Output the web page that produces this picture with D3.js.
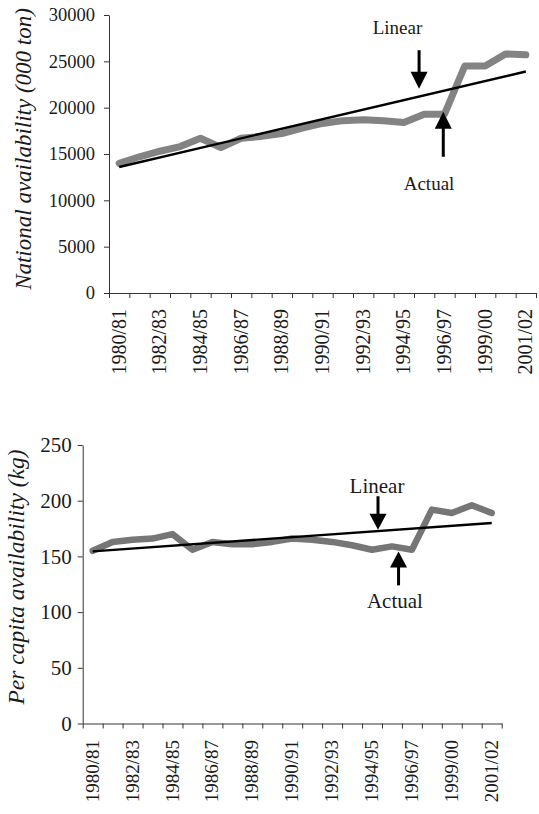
<!DOCTYPE html>
<html><head><meta charset="utf-8">
<script src="https://cdn.jsdelivr.net/npm/d3@7"></script>
<style>
html,body{margin:0;padding:0;background:#fff;}
svg{display:block;}
</style></head><body>
<svg id="chart" width="539" height="814"></svg>
<script>
// ---------- data ----------
const categories = ["1980/81","1981/82","1982/83","1983/84","1984/85","1985/86","1986/87",
  "1987/88","1988/89","1989/90","1990/91","1991/92","1992/93","1993/94","1994/95","1995/96",
  "1996/97","1997/98","1999/00","2000/01","2001/02"];
const xTickLabels = ["1980/81","1982/83","1984/85","1986/87","1988/89","1990/91",
  "1992/93","1994/95","1996/97","1999/00","2001/02"];

const nationalActual = [14000,14700,15300,15800,16700,15700,16700,16900,17200,17800,
  18300,18600,18700,18600,18400,19300,19300,24500,24500,25800,25700];
const nationalLinear = [13600, 23900];          // trend value at first and last category
const nationalTicks = [0,5000,10000,15000,20000,25000,30000];

const perCapitaActual = [155,163,165,166,170,156,163,161,161,163,
  166,165,163,160,156,159,156,192,189,196,189];
const perCapitaLinear = [154.5, 180];
const perCapitaTicks = [0,50,100,150,200,250];

// annotations: text position (category index, value) and arrow (index, from value, to value)
const nationalNotes = [
  {label:"Linear", tIdx:13.69, tVal:27950, aIdx:14.75, from:26200, to:22050},
  {label:"Actual", tIdx:15.24, tVal:11100, aIdx:15.94, from:14700, to:19550}
];
const perCapitaNotes = [
  {label:"Linear", tIdx:14.25, tVal:207, aIdx:14.3, from:204, to:174},
  {label:"Actual", tIdx:15.15, tVal:103.5, aIdx:15.33, from:124, to:154.5}
];

// ---------- drawing ----------
const SERIF = "'Liberation Serif','Times New Roman',Times,serif";
const svg = d3.select("#chart").attr("font-family",SERIF);
svg.append("rect").attr("width",539).attr("height",814).attr("fill","#fff");

function panel(cfg){
  const g = svg.append("g");
  const n = categories.length;
  const xb = d3.scaleBand().domain(categories).range([cfg.left,cfg.right]).padding(0);
  const xi = d3.scaleLinear().domain([-0.5,n-0.5]).range([cfg.left,cfg.right]);
  const y = d3.scaleLinear().domain([0,cfg.yMax]).range([cfg.bottom,cfg.top]);

  // y axis
  const ya = g.append("g").attr("transform",`translate(${cfg.left},0)`)
    .call(d3.axisLeft(y).tickValues(cfg.ticks).tickFormat(d3.format("d"))
      .tickSize(5).tickSizeOuter(0).tickPadding(cfg.yPad));
  ya.attr("font-family",SERIF).attr("font-size",cfg.yFont);
  ya.selectAll("path,line").attr("stroke","#333");
  ya.selectAll("text").attr("fill","#1a1a1a").attr("font-family",SERIF);

  // x axis tick marks at category boundaries
  const xt = g.append("g").attr("transform",`translate(0,${cfg.bottom})`)
    .call(d3.axisBottom(d3.scaleLinear().domain([0,n]).range([cfg.left,cfg.right]))
      .tickValues(d3.range(n+1)).tickFormat("").tickSize(5).tickSizeOuter(0));
  xt.selectAll("path,line").attr("stroke","#333");

  // x labels
  const xl = g.append("g").attr("transform",`translate(0,${cfg.bottom})`)
    .call(d3.axisBottom(xb).tickValues(xTickLabels).tickSize(0));
  xl.attr("font-family",SERIF).attr("font-size",cfg.xFont);
  xl.select(".domain").remove();
  xl.selectAll("text")
    .attr("fill","#1a1a1a").attr("font-family",SERIF)
    .attr("text-anchor","end").attr("transform","rotate(-90)")
    .attr("x",-cfg.xPad).attr("y",0).attr("dy","0.32em");

  // y title
  g.append("text").attr("transform",`translate(${cfg.titleX},${cfg.titleY}) rotate(-90)`)
    .attr("text-anchor","middle").attr("font-size",cfg.titleFont).attr("font-family",SERIF)
    .attr("font-style","italic").attr("fill","#1a1a1a").text(cfg.title);

  // actual series
  const line = d3.line().x((d,i)=>xb(categories[i])+xb.bandwidth()/2).y(d=>y(d));
  g.append("path").datum(cfg.actual).attr("d",line)
    .attr("fill","none").attr("stroke",cfg.actualColor).attr("stroke-width",cfg.actualWidth)
    .attr("stroke-linejoin","round").attr("stroke-linecap","round").attr("opacity",0.95);

  // linear trend
  g.append("line")
    .attr("x1",xi(0)).attr("y1",y(cfg.linear[0]))
    .attr("x2",xi(n-1)).attr("y2",y(cfg.linear[1]))
    .attr("stroke","#000").attr("stroke-width",2.4);

  // annotations
  cfg.notes.forEach(a=>{
    g.append("text").attr("x",xi(a.tIdx)).attr("y",y(a.tVal))
      .attr("text-anchor","middle").attr("font-size",cfg.noteFont).attr("font-family",SERIF)
      .attr("fill","#1a1a1a").text(a.label);
    const ax = xi(a.aIdx), y0 = y(a.from), y1 = y(a.to);
    const dir = y1 > y0 ? 1 : -1;
    const hl = cfg.headLen, hw = cfg.headW/2;
    g.append("line").attr("x1",ax).attr("x2",ax).attr("y1",y0).attr("y2",y1 - dir*hl*0.5)
      .attr("stroke","#000").attr("stroke-width",3);
    g.append("path")
      .attr("d",`M${ax},${y1} L${ax-hw},${y1-dir*hl} L${ax+hw},${y1-dir*hl} Z`)
      .attr("fill","#000");
  });
}

panel({left:109,right:536,top:15,bottom:293,yMax:30000,ticks:nationalTicks,
  yFont:18.5,yPad:9,xFont:20,xPad:16,
  title:"National availability (000 ton)",titleX:31,titleY:149,titleFont:23,
  actual:nationalActual,linear:nationalLinear,actualColor:"#7c7c7c",actualWidth:7,
  notes:nationalNotes,noteFont:19,headLen:17,headW:17});

panel({left:82.7,right:501.7,top:445,bottom:723.5,yMax:250,ticks:perCapitaTicks,
  yFont:21,yPad:6,xFont:19,xPad:16.5,
  title:"Per capita availability (kg)",titleX:24,titleY:577,titleFont:23.5,
  actual:perCapitaActual,linear:perCapitaLinear,actualColor:"#6f6f6f",actualWidth:6.5,
  notes:perCapitaNotes,noteFont:21,headLen:16,headW:17});
</script>
</body></html>
